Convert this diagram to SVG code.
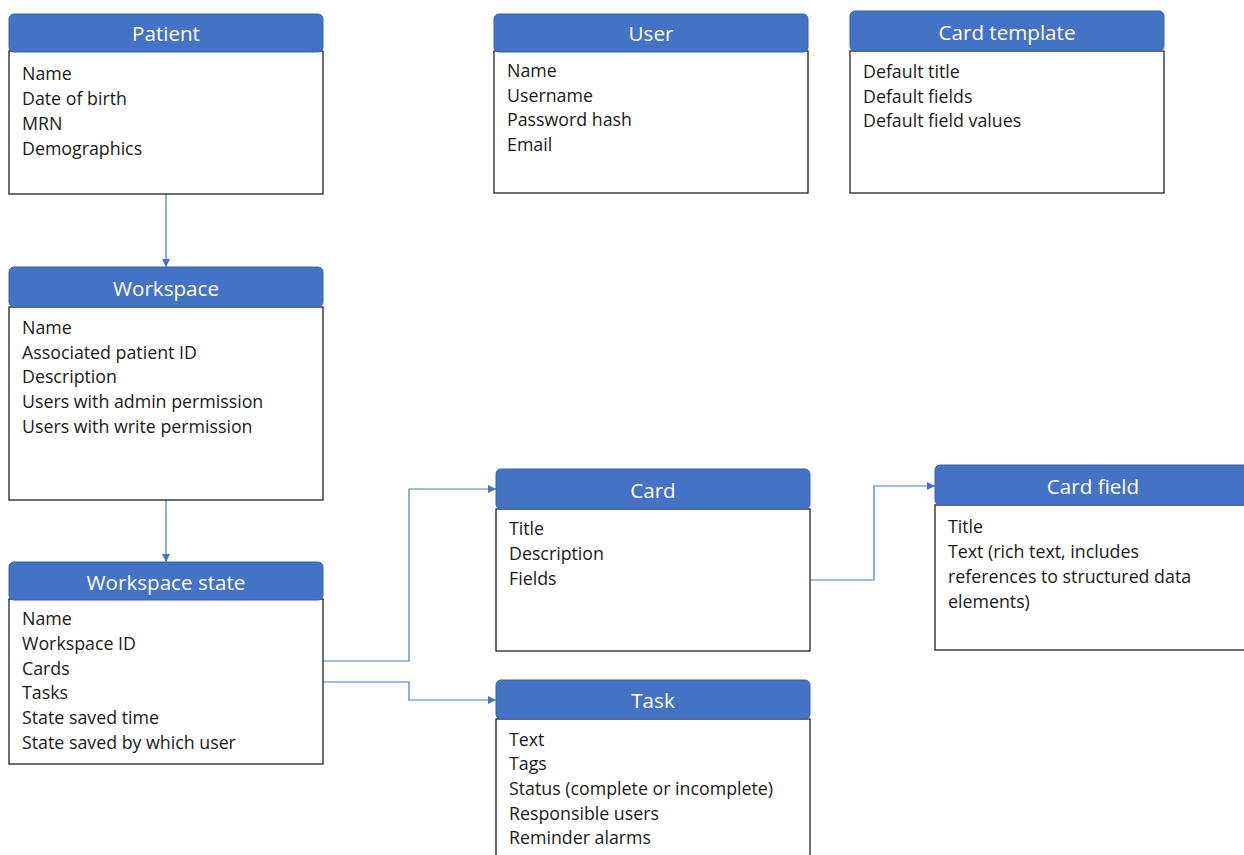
<svg xmlns="http://www.w3.org/2000/svg" width="1244" height="855" viewBox="0 0 1244 855">
<style>
.hd{fill:#4472C4;stroke:#3A63AE;stroke-width:1}
.bd{fill:#fff;stroke:#222;stroke-width:1.3}
.ht{font-family:"Open Sans","Noto Sans",sans-serif;font-size:20.6px;fill:#fff;text-anchor:middle}
.t{font-family:"Open Sans","Noto Sans",sans-serif;font-size:17.8px;fill:#1a1a1a}
.c{fill:none;stroke:#4A78CC;stroke-width:1.2}
</style>
<defs>
<marker id="ah" viewBox="0 0 10 10" refX="10" refY="5" markerWidth="8" markerHeight="8" markerUnits="userSpaceOnUse" orient="auto">
<path d="M0,0L10,5L0,10z" fill="#4472C4"/>
</marker>
</defs>
<rect width="1244" height="855" fill="#fff"/>
<g id="connectors">
<path class="c" d="M166,194V267" marker-end="url(#ah)"/>
<path class="c" d="M166,500V562" marker-end="url(#ah)"/>
<path class="c" d="M323,661H409V489H496" marker-end="url(#ah)"/>
<path class="c" d="M323,682H409V700H496" marker-end="url(#ah)"/>
<path class="c" d="M810,580H874V486H935" marker-end="url(#ah)"/>
</g>
<g id="patient">
<rect class="bd" x="9" y="51" width="314" height="143"/>
<rect class="hd" x="9" y="14" width="314" height="38" rx="5"/>
<text class="ht" x="166" y="41">Patient</text>
<text class="t" x="22" y="80">Name</text>
<text class="t" x="22" y="105">Date of birth</text>
<text class="t" x="22" y="130">MRN</text>
<text class="t" x="22" y="155">Demographics</text>
</g>
<g id="user">
<rect class="bd" x="494" y="51" width="314" height="142"/>
<rect class="hd" x="494" y="14" width="314" height="38" rx="5"/>
<text class="ht" x="651" y="41">User</text>
<text class="t" x="507" y="77">Name</text>
<text class="t" x="507" y="102">Username</text>
<text class="t" x="507" y="126">Password hash</text>
<text class="t" x="507" y="151">Email</text>
</g>
<g id="card-template">
<rect class="bd" x="850" y="51" width="314" height="142"/>
<rect class="hd" x="850" y="11" width="314" height="40" rx="5"/>
<text class="ht" x="1007" y="40">Card template</text>
<text class="t" x="863" y="78">Default title</text>
<text class="t" x="863" y="103">Default fields</text>
<text class="t" x="863" y="127">Default field values</text>
</g>
<g id="workspace">
<rect class="bd" x="9" y="307" width="314" height="193"/>
<rect class="hd" x="9" y="267" width="314" height="40" rx="5"/>
<text class="ht" x="166" y="296">Workspace</text>
<text class="t" x="22" y="334">Name</text>
<text class="t" x="22" y="359">Associated patient ID</text>
<text class="t" x="22" y="383">Description</text>
<text class="t" x="22" y="408">Users with admin permission</text>
<text class="t" x="22" y="433">Users with write permission</text>
</g>
<g id="workspace-state">
<rect class="bd" x="9" y="599" width="314" height="165"/>
<rect class="hd" x="9" y="562" width="314" height="38" rx="5"/>
<text class="ht" x="166" y="590">Workspace state</text>
<text class="t" x="22" y="625">Name</text>
<text class="t" x="22" y="650">Workspace ID</text>
<text class="t" x="22" y="675">Cards</text>
<text class="t" x="22" y="699">Tasks</text>
<text class="t" x="22" y="724">State saved time</text>
<text class="t" x="22" y="749">State saved by which user</text>
</g>
<g id="card">
<rect class="bd" x="496" y="509" width="314" height="142"/>
<rect class="hd" x="496" y="469" width="314" height="40" rx="5"/>
<text class="ht" x="653" y="498">Card</text>
<text class="t" x="509" y="535">Title</text>
<text class="t" x="509" y="560">Description</text>
<text class="t" x="509" y="585">Fields</text>
</g>
<g id="card-field">
<rect class="bd" x="935" y="505" width="320" height="145"/>
<rect class="hd" x="935" y="465" width="320" height="40" rx="5"/>
<text class="ht" x="1093" y="494">Card field</text>
<text class="t" x="948" y="533">Title</text>
<text class="t" x="948" y="558">Text (rich text, includes</text>
<text class="t" x="948" y="583">references to structured data</text>
<text class="t" x="948" y="608">elements)</text>
</g>
<g id="task">
<rect class="bd" x="496" y="719" width="314" height="145"/>
<rect class="hd" x="496" y="680" width="314" height="39" rx="5"/>
<text class="ht" x="653" y="708">Task</text>
<text class="t" x="509" y="746">Text</text>
<text class="t" x="509" y="770">Tags</text>
<text class="t" x="509" y="795">Status (complete or incomplete)</text>
<text class="t" x="509" y="820">Responsible users</text>
<text class="t" x="509" y="844">Reminder alarms</text>
</g>
</svg>
